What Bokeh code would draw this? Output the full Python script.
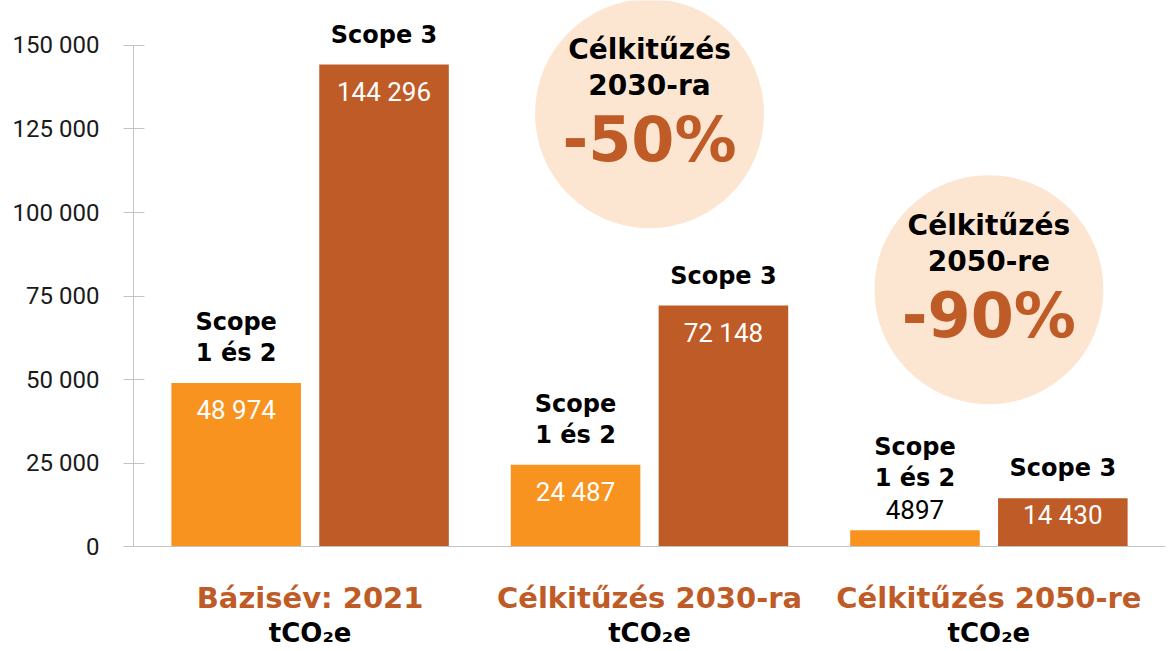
from bokeh.plotting import figure
from bokeh.models import FactorRange, Range1d, FixedTicker, Span, ColumnDataSource
from bokeh.core.properties import value
from bokeh.embed import file_html
from bokeh.resources import INLINE

# ---------------- data ----------------
GROUPS = ["Bázisév: 2021", "Célkitűzés 2030-ra", "Célkitűzés 2050-re"]
SCOPES = ["Scope 1 és 2", "Scope 3"]
SCOPE_LINES = {"Scope 1 és 2": ["Scope", "1 és 2"], "Scope 3": ["Scope 3"]}
VALUES_S12 = [48974, 24487, 4897]
VALUES_S3 = [144296, 72148, 14430]
LABELS_S12 = ["48 974", "24 487", "4897"]
LABELS_S3 = ["144 296", "72 148", "14 430"]
UNIT = "tCO₂e"
TARGET_GROUPS = ["Célkitűzés 2030-ra", "Célkitűzés 2050-re"]
TARGET_TITLE = ["Célkitűzés", "Célkitűzés"]
TARGET_YEAR = ["2030-ra", "2050-re"]
TARGET_CUT = ["-50%", "-90%"]
TARGET_Y = [129600, 76900]
TICKS = [0, 25000, 50000, 75000, 100000, 125000, 150000]
TICK_LABELS = ["0", "25 000", "50 000", "75 000", "100 000", "125 000", "150 000"]

# ---------------- style ----------------
C_LIGHT = "#F7931E"
C_DARK = "#BF5B26"
C_CIRCLE = "#FDE6D1"
C_GRID = "#C4C4C4"
BOLD_FONT = value("DejaVu Sans")
REG_FONT = value("Roboto")

W, H = 1173, 651
LEFT, RIGHT = 133, 8
YMIN, YMAX = -31437, 163473
PX = H / (YMAX - YMIN)

x_range = FactorRange(*[(g, s) for g in GROUPS for s in SCOPES],
                      factor_padding=0.05, group_padding=0.36,
                      range_padding=0.229, range_padding_units="absolute")

p = figure(width=W, height=H, x_range=x_range, y_range=Range1d(YMIN, YMAX),
           output_backend="svg", toolbar_location=None,
           min_border_left=LEFT, min_border_right=RIGHT, min_border_top=0, min_border_bottom=0)
p.outline_line_color = None
p.grid.visible = False
p.xaxis.visible = False
p.background_fill_color = "white"

ax = p.yaxis[0]
ax.ticker = FixedTicker(ticks=TICKS)
ax.major_label_overrides = {t: l for t, l in zip(TICKS, TICK_LABELS)}
ax.bounds = (0, TICKS[-1])
ax.axis_line_color = C_GRID
ax.major_tick_line_color = C_GRID
ax.minor_tick_line_color = None
ax.major_tick_in = 11
ax.major_tick_out = 10
ax.major_label_standoff = 24
ax.major_label_text_font = "Roboto"
ax.major_label_text_font_size = "24px"
ax.major_label_text_color = "#1a1a1a"

p.add_layout(Span(location=0, dimension="width", line_color=C_GRID, line_width=1))

# target circles
csrc = ColumnDataSource(dict(x=TARGET_GROUPS, y=TARGET_Y, t=TARGET_TITLE,
                             yr=TARGET_YEAR, cut=TARGET_CUT))
p.scatter(x="x", y="y", source=csrc, size=229, marker="circle",
          fill_color=C_CIRCLE, line_color=None)
p.text(x="x", y="y", text="t", source=csrc, y_offset=-64, text_align="center",
       text_baseline="middle", text_font=BOLD_FONT, text_font_style="bold",
       text_font_size="28px", text_color="black")
p.text(x="x", y="y", text="yr", source=csrc, y_offset=-28, text_align="center",
       text_baseline="middle", text_font=BOLD_FONT, text_font_style="bold",
       text_font_size="28px", text_color="black")
p.text(x="x", y="y", text="cut", source=csrc, y_offset=26, text_align="center",
       text_baseline="middle", text_font=BOLD_FONT, text_font_style="bold",
       text_font_size="62px", text_color=C_DARK)

# bars
for scope, vals, labs, col in [(SCOPES[0], VALUES_S12, LABELS_S12, C_LIGHT),
                               (SCOPES[1], VALUES_S3, LABELS_S3, C_DARK)]:
    xs = [(g, scope) for g in GROUPS]
    p.vbar(x=xs, top=vals, bottom=0, width=0.92, fill_color=col, line_color=None)

    v_off, v_col, s_base = [], [], []
    for v in vals:
        h = v * PX
        if h >= 40:
            v_off.append(min(27, h / 2 - 7))
            v_col.append("white")
            s_base.append(-30)
        else:
            v_off.append(-21)
            v_col.append("black")
            s_base.append(-52)
    p.text(x=xs, y=vals, text=labs, y_offset=v_off, text_color=v_col,
           text_align="center", text_baseline="middle", text_font=REG_FONT,
           text_font_size="26px")
    lines = SCOPE_LINES[scope]
    for k, line in enumerate(reversed(lines)):
        p.text(x=xs, y=vals, text=[line] * len(xs), y_offset=[b - 31 * k for b in s_base],
               text_color="black", text_align="center", text_baseline="middle",
               text_font=BOLD_FONT, text_font_style="bold", text_font_size="24px")

# group labels under the axis
p.text(x=GROUPS, y=[0] * len(GROUPS), text=GROUPS, y_offset=51, text_align="center",
       text_baseline="middle", text_font=BOLD_FONT, text_font_style="bold",
       text_font_size="29px", text_color=C_DARK)
p.text(x=GROUPS, y=[0] * len(GROUPS), text=[UNIT] * len(GROUPS), y_offset=86,
       text_align="center", text_baseline="middle", text_font=BOLD_FONT,
       text_font_style="bold", text_font_size="26px", text_color="black")

open("out.html", "w").write(file_html(p, INLINE))
